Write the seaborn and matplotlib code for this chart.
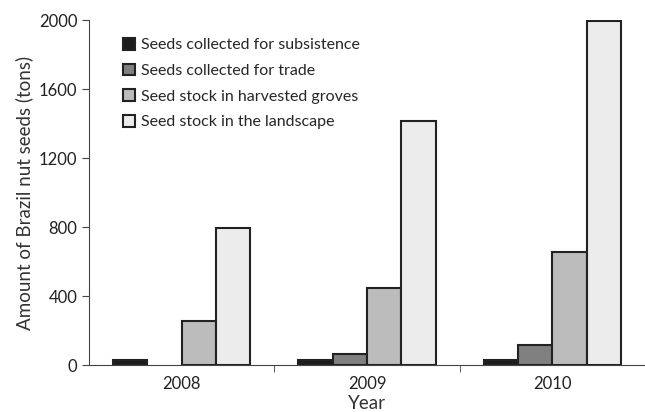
import numpy as np
import pandas as pd
import seaborn as sns
import matplotlib.pyplot as plt

years = ['2008', '2009', '2010']
series = ['Seeds collected for subsistence', 'Seeds collected for trade',
          'Seed stock in harvested groves', 'Seed stock in the landscape']
subsistence = [30, 30, 30]
trade = [np.nan, 65, 116]
groves = [257, 448, 657]
landscape = [792, 1416, 1998]
colors = ['#1c1c1c', '#808080', '#bcbcbc', '#ececec']

df = pd.DataFrame({
    'Year': years * 4,
    'Series': [s for s in series for _ in years],
    'Tons': subsistence + trade + groves + landscape,
})

sns.set_style('ticks')
plt.rcParams['font.family'] = ['Lato', 'DejaVu Sans']

fig = plt.figure(figsize=(6.45, 4.12), dpi=100)
ax = fig.add_axes([0.138, 0.114, 0.862, 0.837])
sns.barplot(data=df, x='Year', y='Tons', hue='Series', hue_order=series,
            palette=colors, width=0.74, edgecolor='#222222', linewidth=1.5,
            saturation=1, ax=ax)

ax.set_xlim(-0.5, 2.5)
ax.set_ylim(0, 2000)
ax.set_yticks([0, 400, 800, 1200, 1600, 2000])
ax.tick_params(axis='y', labelsize=12, length=5, color='#444444', labelcolor='#222222')
ax.tick_params(axis='x', which='major', length=0, labelsize=12, pad=8, labelcolor='#222222')
ax.set_xticks([0.5, 1.5], minor=True)
ax.tick_params(axis='x', which='minor', length=5, color='#444444')
ax.set_xlabel('Year', fontsize=13.5, color='#333333', labelpad=2)
ax.set_ylabel('Amount of Brazil nut seeds (tons)', fontsize=13.5, color='#333333')
sns.despine(ax=ax)
for s in ['left', 'bottom']:
    ax.spines[s].set_color('#444444')

ax.legend(loc='upper left', bbox_to_anchor=(0.035, 0.99), frameon=False,
          fontsize=11.5, handlelength=0.75, handleheight=0.75, handletextpad=0.4,
          labelspacing=0.7)

fig.savefig('out.png', dpi=100)
